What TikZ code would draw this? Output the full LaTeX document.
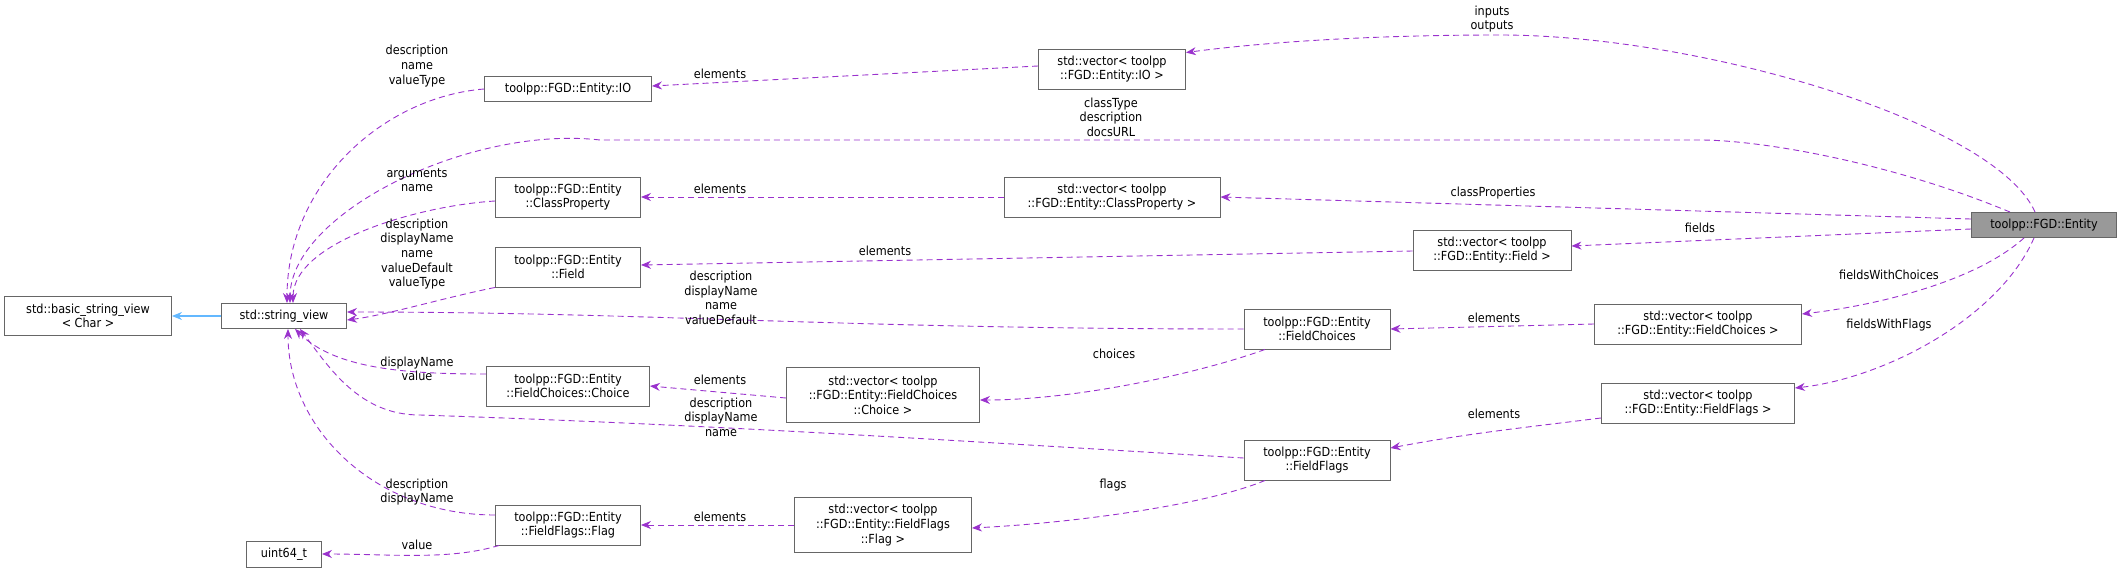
\documentclass[tikz,border=0pt]{standalone}
\usepackage{fontspec}
\setmainfont{DejaVu Sans Condensed}
\usetikzlibrary{arrows.meta}
\definecolor{edgep}{HTML}{9A32CD}
\definecolor{inh}{HTML}{63B8FF}
\definecolor{bord}{HTML}{666666}
\definecolor{entf}{HTML}{999999}
\tikzset{
  cls/.style={draw=bord, line width=0.9pt, fill=white, align=center, inner sep=0pt, font=\fontsize{12.5}{14.6}\selectfont},
  lbl/.style={align=center, inner sep=0pt, font=\fontsize{12.5}{14.6}\selectfont},
  use/.style={draw=edgep, line width=0.9pt, dash pattern=on 6pt off 4pt, -{Stealth[length=10pt,width=8pt]}},
  inhe/.style={draw=inh, line width=1.1pt, -{Stealth[length=10pt,width=8pt]}}
}
\begin{document}
\begin{tikzpicture}[x=1pt,y=-1pt]
\useasboundingbox (0,0) rectangle (2123,573);
\def\bx#1#2#3#4#5#6{\node[cls, minimum width=#4pt, minimum height=#5pt] (#1) at (#2,#3) {#6};}
\bx{bsv}{88}{316}{167}{39}{std::basic\_string\_view\\< Char >}
\bx{sv}{284}{316}{125}{25}{std::string\_view}
\bx{io}{568}{89}{167}{25}{toolpp::FGD::Entity::IO}
\bx{cp}{568}{197}{145}{40}{toolpp::FGD::Entity\\::ClassProperty}
\bx{fld}{568}{267}{145}{40}{toolpp::FGD::Entity\\::Field}
\bx{ch}{568}{386}{163}{40}{toolpp::FGD::Entity\\::FieldChoices::Choice}
\bx{flg}{568}{525}{145}{40}{toolpp::FGD::Entity\\::FieldFlags::Flag}
\bx{u64}{284}{554}{75}{26}{uint64\_t}
\bx{vio}{1112}{69}{147}{40}{std::vector< toolpp\\::FGD::Entity::IO >}
\bx{vcp}{1112}{197}{216}{40}{std::vector< toolpp\\::FGD::Entity::ClassProperty >}
\bx{vfld}{1492}{250}{158}{40}{std::vector< toolpp\\::FGD::Entity::Field >}
\bx{fc}{1317}{329}{146}{40}{toolpp::FGD::Entity\\::FieldChoices}
\bx{vch}{883}{395}{193}{55}{std::vector< toolpp\\::FGD::Entity::FieldChoices\\::Choice >}
\bx{ff}{1317}{460}{146}{40}{toolpp::FGD::Entity\\::FieldFlags}
\bx{vflg}{883}{525}{177}{55}{std::vector< toolpp\\::FGD::Entity::FieldFlags\\::Flag >}
\bx{vfc}{1698}{324}{207}{40}{std::vector< toolpp\\::FGD::Entity::FieldChoices >}
\bx{vff}{1698}{403}{193}{40}{std::vector< toolpp\\::FGD::Entity::FieldFlags >}
\node[cls, fill=entf, minimum width=145pt, minimum height=25pt] (ent) at (2044,225) {toolpp::FGD::Entity};

% inheritance
\draw[inhe] (sv.west) -- (bsv.east);

% edges from Entity
\draw[use] ([xshift=-9pt]ent.north) .. controls +(-40,-90) and +(200,0) .. (1500,35) .. controls +(-150,0) and +(60,-8) .. ([yshift=-4pt]vio.north east);
\draw[use] ([xshift=-34pt]ent.north) .. controls +(-120,-50) and +(60,0) .. (1700,140) -- (600,140) .. controls +(-130,-15) and +(0,-90) .. ([xshift=6pt]sv.north);
\draw[use] ([yshift=6pt]ent.west) -- (vcp.east);
\draw[use] ([yshift=-4pt]ent.west) -- ([yshift=4pt]vfld.east);
\draw[use] ([xshift=-20pt]ent.south) .. controls +(-50,45) and +(70,-8) .. ([yshift=10pt]vfc.east);
\draw[use] ([xshift=-10pt]ent.south) .. controls +(-35,80) and +(90,-10) .. ([yshift=15pt]vff.east);

% vectors to element types
\draw[use] ([yshift=3pt]vio.west) -- ([yshift=3pt]io.east);
\draw[use] (vcp.west) -- (cp.east);
\draw[use] ([yshift=-1pt]vfld.west) -- ([yshift=2pt]fld.east);
\draw[use] (vfc.west) -- (fc.east);
\draw[use] ([yshift=-15pt]vff.west) .. controls +(-80,10) and +(80,-15) .. ([yshift=12pt]ff.east);
\draw[use] ([xshift=-52pt]fc.south) .. controls +(-60,22) and +(100,0) .. ([yshift=-5pt]vch.east);
\draw[use] ([xshift=-52pt]ff.south) .. controls +(-60,25) and +(100,-5) .. ([yshift=-3pt]vflg.east);
\draw[use] ([yshift=-3pt]vch.west) -- (ch.east);
\draw[use] (vflg.west) -- (flg.east);

% to string_view
\draw[use] (io.west) .. controls +(-100,8) and +(0,-120) .. ([xshift=3pt]sv.north);
\draw[use] ([yshift=-4pt]cp.west) .. controls +(-80,5) and +(0,-60) .. ([xshift=9pt]sv.north);
\draw[use] (fld.south west) .. controls +(-50,10) and +(40,-5) .. ([yshift=-4pt]sv.east);
\draw[use] (fc.west) .. controls +(-400,0) and +(300,0) .. ([yshift=4pt]sv.east);
\draw[use] ([yshift=12pt]ch.west) .. controls +(-80,0) and +(40,40) .. ([xshift=11pt]sv.south);
\draw[use] ([yshift=2pt]ff.west) .. controls +(-300,-18) and +(300,10) .. (420,415) .. controls +(-60,0) and +(30,40) .. ([xshift=16pt]sv.south);
\draw[use] ([yshift=10pt]flg.west) .. controls +(-120,0) and +(0,100) .. ([xshift=4pt]sv.south);
\draw[use] ([xshift=4pt]flg.south west) .. controls +(-50,15) and +(70,0) .. (u64.east);

% labels
\node[lbl] (l1) at (1492,19) {inputs\\outputs};
\node[lbl] (l2) at (1111,117) {classType\\description\\docsURL};
\node[lbl] (l3) at (1493,193) {classProperties};
\node[lbl] (l4) at (1700,228) {fields};
\node[lbl] (l5) at (1889,275) {fieldsWithChoices};
\node[lbl] (l6) at (1889,325) {fieldsWithFlags};
\node[lbl] (l7) at (720,74) {elements};
\node[lbl] (l8) at (720,189) {elements};
\node[lbl] (l9) at (885,251) {elements};
\node[lbl] (l10) at (1494,318) {elements};
\node[lbl] (l11) at (1494,414) {elements};
\node[lbl] (l12) at (720,380) {elements};
\node[lbl] (l13) at (720,517) {elements};
\node[lbl] (l14) at (1114,354) {choices};
\node[lbl] (l15) at (1113,485) {flags};
\node[lbl] (l16) at (721,298) {description\\displayName\\name\\valueDefault};
\node[lbl] (l17) at (721,417) {description\\displayName\\name};
\node[lbl] (l18) at (417,66) {description\\name\\valueType};
\node[lbl] (l19) at (417,180) {arguments\\name};
\node[lbl] (l20) at (417,254) {description\\displayName\\name\\valueDefault\\valueType};
\node[lbl] (l21) at (417,369) {displayName\\value};
\node[lbl] (l22) at (417,492) {description\\displayName};
\node[lbl] (l23) at (417,545) {value};
\end{tikzpicture}
\end{document}
